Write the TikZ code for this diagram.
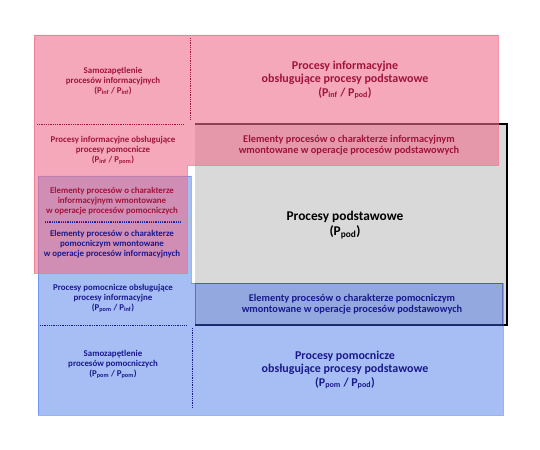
\documentclass[tikz,border=0pt]{standalone}
\usepackage{fontspec}
\setmainfont{Carlito}
\usetikzlibrary{positioning}
\definecolor{infred}{RGB}{238,110,138}
\definecolor{pomblue}{RGB}{60,110,230}
\definecolor{inftext}{RGB}{160,20,60}
\definecolor{pomtext}{RGB}{25,25,140}
\definecolor{podgray}{RGB}{217,217,217}
\newcommand{\procP}[1]{P\textsubscript{#1}}

\begin{document}
\begin{tikzpicture}[x=1bp,y=-1bp,
                   every node/.style = {align=center, inner sep=0pt},
                   small/.style = {font=\fontsize{8.9}{10}\selectfont\bfseries},
                   mid/.style = {font=\fontsize{10.4}{11.5}\selectfont\bfseries},
                   big/.style = {font=\fontsize{12}{13.5}\selectfont\bfseries},
                   huge/.style = {font=\fontsize{13.4}{15}\selectfont\bfseries},
                   inf/.style = {text=inftext},
                   pom/.style = {text=pomtext},
                   infarea/.style = {fill=infred, fill opacity=0.6,
                                     draw=infred, draw opacity=0.7, line width=0.8bp},
                   pomarea/.style = {fill=pomblue, fill opacity=0.45,
                                     draw=pomblue, draw opacity=0.5, line width=0.8bp},
                   infsep/.style = {draw=inftext, densely dotted, line width=0.8bp},
                   pomsep/.style = {draw=pomtext, densely dotted, line width=0.8bp}]
  \useasboundingbox (0,0) rectangle (540,450);

  % processes
  \fill[podgray] (195,124) rectangle (507,325);
  \draw[line width=1.2bp] (195,124) -- (507,124) -- (507,325) -- (195,325);
  \path[pomarea] (38,176) -- (191,176) -- (191,283) -- (503,283)
                 -- (503,415) -- (38,415) -- cycle;
  \path[infarea] (34,35) -- (498,35) -- (498,165) -- (187,165)
                 -- (187,273) -- (34,273) -- cycle;
  \draw[pomtext, line width=0.8bp, opacity=0.4] (195,283) rectangle (502,325);

  % separators
  \draw[infsep] (190,38) -- (190,120);
  \draw[infsep] (37,124) -- (183,124);
  \draw[infsep] (45,221.5) -- (180,221.5);
  \draw[pomsep] (45,222.5) -- (180,222.5);
  \draw[pomsep] (40,325) -- (187,325);
  \draw[pomsep] (192,328) -- (192,408);

  \node[small,inf] (infinf) at (113,81)
    {Samozapętlenie\\procesów informacyjnych\\(\procP{inf} / \procP{inf})};
  \node[big,inf] (infpod) at (345,80)
    {Procesy informacyjne\\obsługujące procesy podstawowe\\(\procP{inf} / \procP{pod})};
  \node[small,inf] (infpom) at (113,150)
    {Procesy informacyjne obsługujące\\procesy pomocnicze\\(\procP{inf} / \procP{pom})};
  \node[mid,inf] (infelem) at (349,145)
    {Elementy procesów o charakterze informacyjnym\\wmontowane w operacje procesów podstawowych};
  \node[small,inf] (infinpom) at (112,201)
    {Elementy procesów o charakterze\\informacyjnym wmontowane\\w operacje procesów pomocniczych};
  \node[small,pom] (pominf) at (112,244)
    {Elementy procesów o charakterze\\pomocniczym wmontowane\\w operacje procesów informacyjnych};
  \node[huge] (pod) at (345,225)
    {Procesy podstawowe\\(\procP{pod})};
  \node[small,pom] (pomforinf) at (113,298)
    {Procesy pomocnicze obsługujące\\procesy informacyjne\\(\procP{pom} / \procP{inf})};
  \node[mid,pom] (pomelem) at (352,304)
    {Elementy procesów o charakterze pomocniczym\\wmontowane w operacje procesów podstawowych};
  \node[small,pom] (pompom) at (113,364)
    {Samozapętlenie\\procesów pomocniczych\\(\procP{pom} / \procP{pom})};
  \node[big,pom] (pompod) at (345,370)
    {Procesy pomocnicze\\obsługujące procesy podstawowe\\(\procP{pom} / \procP{pod})};
\end{tikzpicture}
\end{document}
